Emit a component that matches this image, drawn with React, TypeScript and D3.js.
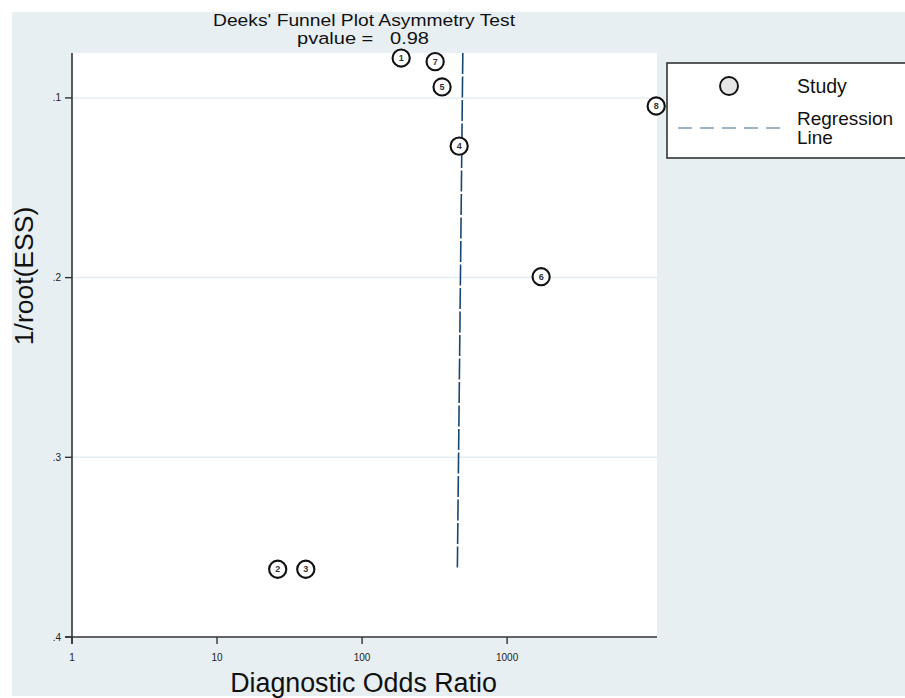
import React from "react";
import * as d3 from "d3";

// Study labels and their coordinates (diagnostic odds ratio, 1/sqrt(ESS))
const studies = ["1", "2", "3", "4", "5", "6", "7", "8"];
const dor = [186, 26.2, 40.9, 467, 356, 1716, 319, 10660];
const invRootEss = [0.0778, 0.3623, 0.3623, 0.1268, 0.0939, 0.1995, 0.0798, 0.1045];

// Fitted regression line end points
const regDor = [495, 454];
const regInvRootEss = [0.075, 0.3617];

const xTicks = [1, 10, 100, 1000];
const xTickLabels = ["1", "10", "100", "1000"];
const yTicks = [0.1, 0.2, 0.3, 0.4];
const yTickLabels = [".1", ".2", ".3", ".4"];
const gridValues = [0.1, 0.2, 0.3];

const title = "Deeks' Funnel Plot Asymmetry Test";
const pValue = 0.98;

const W = 905;
const H = 698;
const font = "'Liberation Sans', Arial, Helvetica, sans-serif";
const bg = "#e8eff2";
const axisColor = "#333";
const lineColor = "#1a476f";

export default function App() {
  const left = 72, right = 657, top = 53, bottom = 637;
  const x = d3.scaleLog().domain([1, 10800]).range([left, right]);
  const y = d3.scaleLinear().domain([0.075, 0.4]).range([top, bottom]);

  const reg = d3
    .line<number>()
    .x((_, i) => x(regDor[i]))
    .y((_, i) => y(regInvRootEss[i]))(regDor);

  return (
    <svg
      width={W}
      height={H}
      style={{ position: "absolute", left: 0, top: 0, display: "block" }}
      fontFamily={font}
    >
      <rect x={0} y={0} width={W} height={H} fill="#ffffff" />
      <rect x={12} y={12} width={W - 12} height={684} fill={bg} />
      <rect x={left} y={top} width={right - left} height={bottom - top} fill="#ffffff" />

      {/* horizontal grid */}
      {gridValues.map((g) => (
        <line key={g} x1={left} x2={right} y1={y(g)} y2={y(g)} stroke="#e4edf1" strokeWidth={1.5} />
      ))}

      {/* titles */}
      <text x={213} y={25.5} fontSize={16.8} fill="#111" textLength={302} lengthAdjust="spacingAndGlyphs">
        {title}
      </text>
      <text x={297} y={44.3} fontSize={16.8} fill="#111" xmlSpace="preserve" textLength={132} lengthAdjust="spacingAndGlyphs">
        {`pvalue =   ${pValue.toFixed(2)}`}
      </text>

      {/* regression line */}
      <path d={reg ?? ""} fill="none" stroke={lineColor} strokeWidth={1.6} strokeDasharray="21 2.5" />

      {/* axes */}
      <line x1={left} x2={left} y1={top} y2={bottom + 7} stroke={axisColor} strokeWidth={1.6} />
      <line x1={left - 7} x2={right} y1={bottom} y2={bottom} stroke={axisColor} strokeWidth={1.6} />
      {yTicks.map((t, i) => (
        <g key={t}>
          <line x1={left - 7} x2={left} y1={y(t)} y2={y(t)} stroke={axisColor} strokeWidth={1.4} />
          <text x={left - 11} y={y(t) + 3.5} textAnchor="end" fontSize={10} fill="#222">{yTickLabels[i]}</text>
        </g>
      ))}
      {xTicks.map((t, i) => (
        <g key={t}>
          <line x1={x(t)} x2={x(t)} y1={bottom} y2={bottom + 7} stroke={axisColor} strokeWidth={1.4} />
          <text x={x(t)} y={bottom + 24} textAnchor="middle" fontSize={10} fill="#222">{xTickLabels[i]}</text>
        </g>
      ))}

      <text
        transform={`translate(33,${(top + bottom) / 2 - 69}) rotate(-90)`}
        textAnchor="middle"
        fontSize={26.5}
        fill="#111"
      >
        1/root(ESS)
      </text>
      <text x={(left + right) / 2 - 1} y={692} textAnchor="middle" fontSize={26.8} fill="#111">
        Diagnostic Odds Ratio
      </text>

      {/* study markers */}
      {studies.map((s, i) => (
        <g key={s} transform={`translate(${x(dor[i])},${y(invRootEss[i])})`}>
          <circle r={8.6} fill="#ffffff" stroke="#111" strokeWidth={2.1} />
          <text y={3.2} textAnchor="middle" fontSize={9} fontWeight="bold" fill="#333">{s}</text>
        </g>
      ))}

      {/* legend */}
      <rect x={667} y={63} width={260} height={95} fill="#ffffff" stroke={axisColor} strokeWidth={1.6} />
      <circle cx={729} cy={86} r={9} fill="#e6e6e6" stroke="#111" strokeWidth={1.9} />
      <text x={797} y={93} fontSize={19.5} fill="#111">Study</text>
      <line x1={678} x2={782} y1={128} y2={128} stroke="#7f9ab3" strokeWidth={1.6} strokeDasharray="14 8" />
      <text x={797} y={124.5} fontSize={19} fill="#111">Regression</text>
      <text x={797} y={144} fontSize={19} fill="#111">Line</text>
    </svg>
  );
}
